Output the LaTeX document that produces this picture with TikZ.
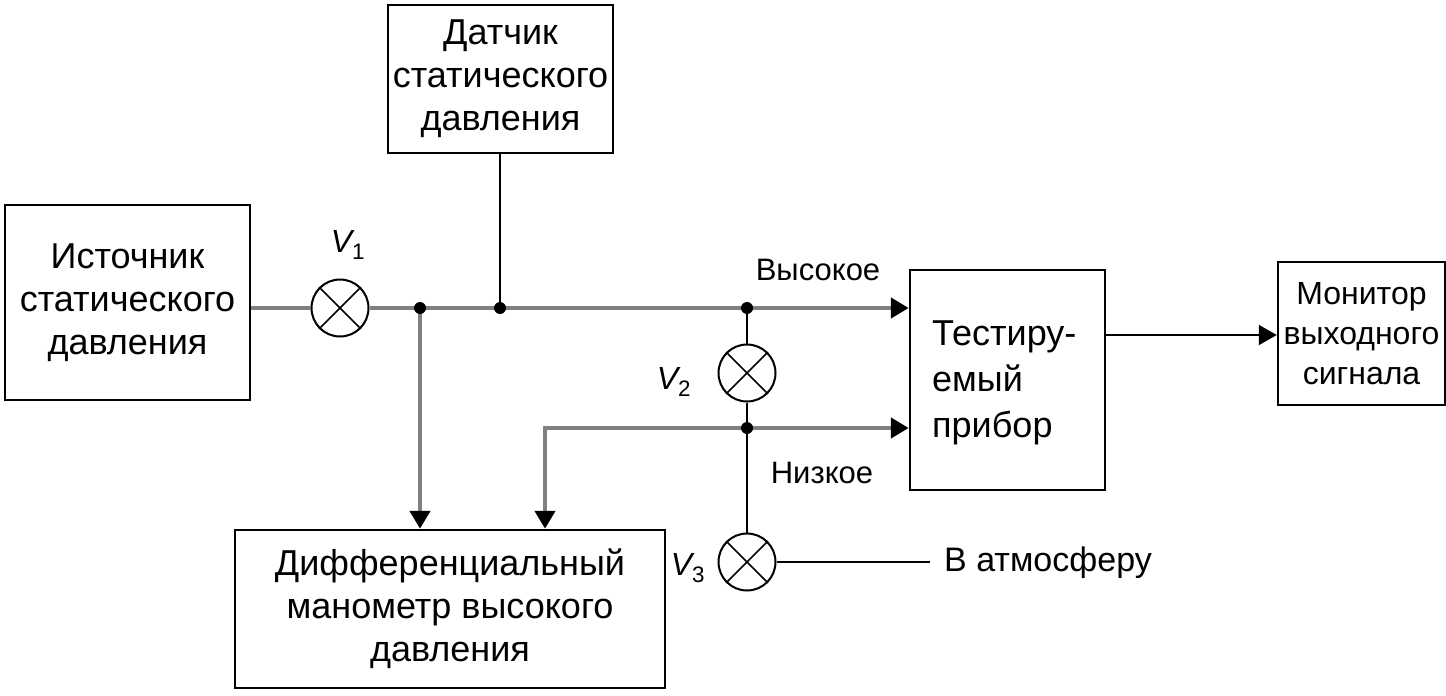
\documentclass[tikz,border=0pt]{standalone}
\usepackage{fontspec}
\setmainfont{Liberation Sans}
\usetikzlibrary{arrows.meta}
\begin{document}
\begin{tikzpicture}[x=1pt,y=-1pt,
  blk/.style={draw,line width=2.5pt,inner sep=0pt,align=center,font=\fontsize{36}{43}\selectfont},
  valve/.style={draw,circle,line width=2pt,minimum size=57pt,inner sep=0pt},
  pipe/.style={draw=black!50,line width=4.5pt},
  wire/.style={draw=black,line width=2pt},
  tip/.style={-{Triangle[length=18pt,width=20pt,color=black]}},
  jdot/.style={circle,fill=black,inner sep=0pt,minimum size=12pt},
  lbl/.style={font=\fontsize{31}{34}\selectfont},
  vlbl/.style={font=\fontsize{32}{34}\selectfont\itshape}]
\useasboundingbox (0,0) rectangle (1446,696);
% boxes
\node[blk,minimum width=245pt,minimum height=195pt] (src) at (127.5,302.5) {Источник\\статического\\давления};
\node[blk,minimum width=225pt,minimum height=148pt] (dat) at (500.5,79) {Датчик\\статического\\давления};
\node[blk,minimum width=430pt,minimum height=158pt] (diff) at (450,609) {Дифференциальный\\манометр высокого\\давления};
\node[blk,minimum width=195pt,minimum height=220pt] (test) at (1007.5,380) {};
\node[align=left,anchor=west,inner sep=0pt,font=\fontsize{36}{46}\selectfont] (testtxt) at (932,383) {Тестиру-\\емый\\прибор};
\node[blk,minimum width=167pt,minimum height=143pt,font=\fontsize{32}{40}\selectfont] (mon) at (1361.5,333.5) {Монитор\\выходного\\сигнала};
% valves
\node[valve] (v1) at (340,308) {};
\node[valve] (v2) at (747,373) {};
\node[valve] (v3) at (747,562) {};
\foreach \v in {v1,v2,v3}{\draw[line width=1.5pt] (\v.45) -- (\v.225) (\v.135) -- (\v.315);}
% junctions
\coordinate (j1) at (420,308);
\coordinate (j2) at (500,308);
\coordinate (j3) at (747,308);
\coordinate (j4) at (747,428);
\coordinate (c1) at (545,428);
\coordinate (atm) at (930,562);
% pipes
\draw[pipe] (src.east |- v1) -- (v1.west);
\draw[pipe,tip] (v1.east) -- (j1) -- (j2) -- (j3) -- (test.west |- j3);
\draw[pipe,tip] (j1) -- (j1 |- diff.north);
\draw[pipe,tip] (j4) -- (c1) -- (c1 |- diff.north);
\draw[pipe,tip] (j4) -- (test.west |- j4);
% wires
\draw[wire] (dat.south -| j2) -- (j2);
\draw[wire] (j3) -- (v2.north);
\draw[wire] (v2.south) -- (j4) -- (v3.north);
\draw[wire] (v3.east) -- (atm);
\draw[wire,tip] (test.east |- 0,335) -- (mon.west |- 0,335);
% dots
\foreach \j in {j1,j2,j3,j4}{\node[jdot] at (\j) {};}
% labels
\node[vlbl] (lv1) at (348,245) {V\textsubscript{\upshape 1}};
\node[vlbl] (lv2) at (674,382) {V\textsubscript{\upshape 2}};
\node[vlbl] (lv3) at (688,568) {V\textsubscript{\upshape 3}};
\node[lbl] (hi) at (818,270) {Высокое};
\node[lbl] (lo) at (822,473) {Низкое};
\node[anchor=west,inner sep=0pt,font=\fontsize{34}{36}\selectfont] (atmtxt) at (944,563) {В атмосферу};
\end{tikzpicture}
\end{document}
